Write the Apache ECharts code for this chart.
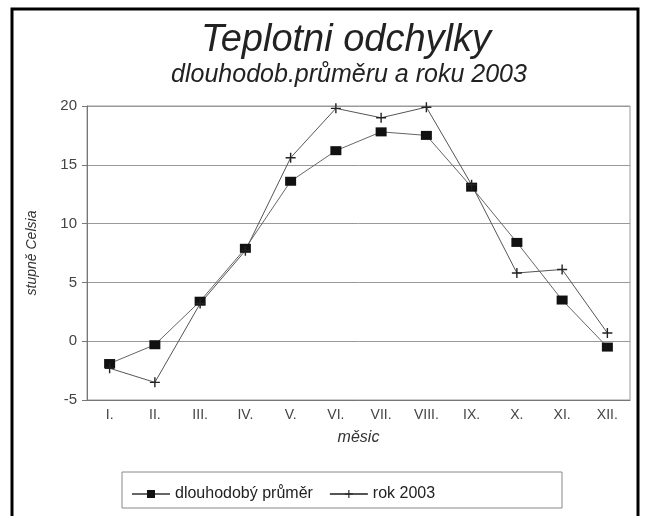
<!DOCTYPE html>
<html><head><meta charset="utf-8">
<script src="https://cdn.jsdelivr.net/npm/echarts@6/dist/echarts.min.js"></script>
<style>html,body{margin:0;padding:0;background:#fff}#c{width:646px;height:516px}</style>
</head><body><div id="c"></div>
<script>
const months = ['I.','II.','III.','IV.','V.','VI.','VII.','VIII.','IX.','X.','XI.','XII.'];
const prumer = [-1.9, -0.3, 3.4, 7.9, 13.6, 16.2, 17.8, 17.5, 13.1, 8.4, 3.5, -0.5];
const rok2003 = [-2.3, -3.5, 3.2, 7.7, 15.6, 19.8, 19.0, 19.9, 13.3, 5.8, 6.1, 0.7];
const yTicks = {min: -5, max: 20, interval: 5};

const plus = 'path://M4.3,0H5.7V4.3H10V5.7H5.7V10H4.3V5.7H0V4.3H4.3Z';
const font = 'Liberation Sans';
const chart = echarts.init(document.getElementById('c'));
chart.setOption({
  animation: false,
  backgroundColor: '#fff',
  textStyle: {fontFamily: font},
  title: [
    {text: 'Teplotni odchylky', left: 341, top: 16, textAlign: 'center',
     textStyle: {fontFamily: font, fontStyle: 'italic', fontWeight: 'normal', fontSize: 38, color: '#222'}},
    {text: 'dlouhodob.průměru a roku 2003', left: 344, top: 58, textAlign: 'center',
     textStyle: {fontFamily: font, fontStyle: 'italic', fontWeight: 'normal', fontSize: 25, color: '#222'}}
  ],
  grid: {left: 87, right: 16, top: 106, bottom: 116, show: true, borderColor: '#999', borderWidth: 1},
  legend: {
    top: 481, left: 126,
    itemWidth: 38, itemHeight: 10, itemGap: 16,
    textStyle: {fontFamily: font, fontSize: 16, color: '#222'},
    data: ['dlouhodobý průměr', 'rok 2003']
  },
  graphic: [
    {type: 'rect', shape: {x: 12, y: 9, width: 626, height: 520},
     style: {fill: 'none', stroke: '#000', lineWidth: 3}},
    {type: 'rect', shape: {x: 122, y: 472, width: 440, height: 36},
     style: {fill: 'none', stroke: '#888', lineWidth: 1}}
  ],
  xAxis: {
    type: 'category', data: months, boundaryGap: true,
    name: 'měsic', nameLocation: 'middle', nameGap: 30,
    nameTextStyle: {fontFamily: font, fontStyle: 'italic', fontSize: 16, color: '#333'},
    axisLine: {onZero: false, lineStyle: {color: '#777'}},
    axisTick: {alignWithLabel: true, length: 5, lineStyle: {color: '#777'}},
    axisLabel: {fontFamily: font, fontSize: 14, color: '#444', margin: 8}
  },
  yAxis: {
    type: 'value', min: yTicks.min, max: yTicks.max, interval: yTicks.interval,
    name: 'stupně Celsia', nameLocation: 'middle', nameGap: 48, nameRotate: 90,
    nameTextStyle: {fontFamily: font, fontStyle: 'italic', fontSize: 14, color: '#333'},
    axisLine: {show: true, lineStyle: {color: '#777'}},
    axisTick: {show: true, length: 5, lineStyle: {color: '#777'}},
    axisLabel: {fontFamily: font, fontSize: 15, color: '#444', margin: 10},
    splitLine: {lineStyle: {color: '#999', width: 1}}
  },
  series: [
    {name: 'dlouhodobý průměr', type: 'line', data: prumer,
     symbol: 'rect', symbolSize: [11, 9],
     itemStyle: {color: '#111'}, lineStyle: {color: '#666', width: 1}},
    {name: 'rok 2003', type: 'line', data: rok2003,
     symbol: plus, symbolSize: 10,
     itemStyle: {color: '#222'}, lineStyle: {color: '#555', width: 1}}
  ]
});
</script></body></html>
